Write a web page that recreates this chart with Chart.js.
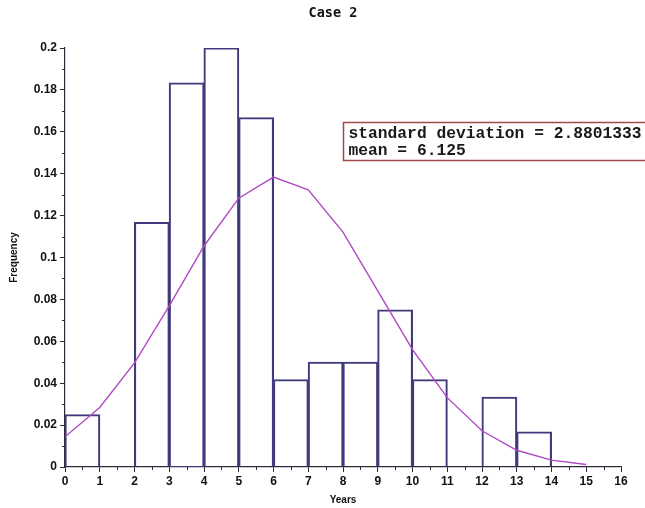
<!DOCTYPE html>
<html>
<head>
<meta charset="utf-8">
<title>Case 2</title>
<script src="https://cdn.jsdelivr.net/npm/chart.js@4.4.1/dist/chart.umd.min.js"></script>
<style>
  html, body { margin: 0; padding: 0; background: #fff; }
  #wrap { width: 645px; height: 508px; position: relative; }
</style>
</head>
<body>
<div id="wrap"><canvas id="chart"></canvas></div>
<script>
// histogram bins (left edge, in years) and relative frequency (n = 120)
var binStarts = [0, 1, 2, 3, 4, 5, 6, 7, 8, 9, 10, 11, 12, 13];
var binFreq = [0.025, 0, 0.1167, 0.1833, 0.2, 0.1667, 0.0417, 0.05, 0.05, 0.075, 0.0417, 0, 0.0333, 0.0167];

// fitted normal curve, read at each whole year
var curveX = [0, 1, 2, 3, 4, 5, 6, 7, 8, 9, 10, 11, 12, 13, 14, 15];
var curveY = [0.0144, 0.0284, 0.0497, 0.0769, 0.1055, 0.1283, 0.1384, 0.1323, 0.1121, 0.0841, 0.056, 0.0331, 0.0173, 0.008, 0.0033, 0.0012];

var xTicks = [0, 1, 2, 3, 4, 5, 6, 7, 8, 9, 10, 11, 12, 13, 14, 15, 16];
var yTicks = [0, 0.02, 0.04, 0.06, 0.08, 0.1, 0.12, 0.14, 0.16, 0.18, 0.2];

var statLines = ['standard deviation = 2.8801333', 'mean = 6.125'];

var axisColor = '#2b2b3a';
var barColor = '#3f3b7d';
var curveColor = '#b148c4';

var minorTicks = {
    id: 'minorTicks',
    afterDraw: function(chart) {
        var ctx = chart.ctx, x = chart.scales.x, y = chart.scales.y;
        ctx.save();
        ctx.strokeStyle = axisColor;
        ctx.lineWidth = 1;
        ctx.beginPath();
        for (var i = 0; i < xTicks.length - 1; i++) {
            var px = Math.round(x.getPixelForValue((xTicks[i] + xTicks[i + 1]) / 2)) + 0.5;
            ctx.moveTo(px, y.bottom);
            ctx.lineTo(px, y.bottom + 3);
        }
        for (var j = 0; j < yTicks.length - 1; j++) {
            var py = Math.round(y.getPixelForValue((yTicks[j] + yTicks[j + 1]) / 2)) + 0.5;
            ctx.moveTo(x.left, py);
            ctx.lineTo(x.left - 3, py);
        }
        ctx.stroke();
        ctx.restore();
    }
};

var extras = {
    id: 'extras',
    afterDraw: function(chart) {
        var ctx = chart.ctx, x = chart.scales.x;
        ctx.save();
        // title
        ctx.fillStyle = '#111';
        ctx.font = 'bold 13.5px "DejaVu Sans Mono"';
        ctx.textAlign = 'center';
        ctx.textBaseline = 'middle';
        ctx.fillText('Case 2', 333, 13);

        // stats box
        var left = Math.round(x.getPixelForValue(8)) + 0.5;
        var top = 122.5;
        ctx.fillStyle = '#fff';
        ctx.fillRect(left, top, 320, 38);
        ctx.strokeStyle = '#a14a4a';
        ctx.lineWidth = 1.5;
        ctx.strokeRect(left, top, 320, 38);
        ctx.fillStyle = '#1a1a1a';
        ctx.font = 'bold 16.3px "Liberation Mono"';
        ctx.textAlign = 'left';
        ctx.fillText(statLines[0], left + 5, top + 11);
        ctx.fillText(statLines[1], left + 5, top + 28);
        ctx.restore();
    }
};

var ctx = document.getElementById('chart').getContext('2d');

new Chart(ctx, {
    data: {
        datasets: [
            {
                type: 'line',
                label: 'Normal fit',
                data: curveX.map(function(v, i) { return { x: v, y: curveY[i] }; }),
                borderColor: curveColor,
                borderWidth: 1.4,
                pointRadius: 0,
                tension: 0,
                fill: false
            },
            {
                type: 'bar',
                label: 'Frequency',
                data: binStarts.map(function(v, i) { return { x: v + 0.5, y: binFreq[i] }; }),
                backgroundColor: 'rgba(255,255,255,0)',
                borderColor: barColor,
                borderWidth: 1.1,
                inflateAmount: 0.5,
                barPercentage: 1,
                categoryPercentage: 1
            }
        ]
    },
    options: {
        responsive: true,
        maintainAspectRatio: false,
        animation: false,
        layout: { padding: { top: 48, right: 24, left: 0, bottom: 0 } },
        plugins: {
            legend: { display: false },
            tooltip: { enabled: false }
        },
        scales: {
            x: {
                type: 'linear',
                offset: false,
                min: 0,
                max: 16,
                afterBuildTicks: function(s) { s.ticks = xTicks.map(function(v) { return { value: v }; }); },
                afterFit: function(s) { s.height = 41; },
                grid: { drawOnChartArea: false, offset: false, tickLength: 5, tickColor: axisColor },
                border: { color: axisColor, width: 1.2 },
                ticks: {
                    padding: 2,
                    color: '#111',
                    font: { family: '"Liberation Sans"', size: 12, weight: 'bold' },
                    maxRotation: 0,
                    autoSkip: false
                },
                title: {
                    display: true,
                    text: 'Years',
                    color: '#111',
                    font: { family: '"Liberation Sans"', size: 10, weight: 'bold' },
                    padding: { top: 0, bottom: 2 }
                }
            },
            y: {
                type: 'linear',
                min: 0,
                max: 0.2,
                afterBuildTicks: function(s) { s.ticks = yTicks.map(function(v) { return { value: v }; }); },
                afterFit: function(s) { s.width = 65; },
                grid: { drawOnChartArea: false, tickLength: 5, tickColor: axisColor },
                border: { color: axisColor, width: 1.2 },
                ticks: {
                    padding: 3,
                    color: '#111',
                    font: { family: '"Liberation Sans"', size: 12, weight: 'bold' },
                    autoSkip: false,
                    callback: function(v) { return String(Math.round(v * 100) / 100); }
                },
                title: {
                    display: true,
                    text: 'Frequency',
                    color: '#111',
                    font: { family: '"Liberation Sans"', size: 10, weight: 'bold' },
                    padding: { top: 8, bottom: 0 }
                }
            }
        }
    },
    plugins: [minorTicks, extras]
});
</script>
</body>
</html>
